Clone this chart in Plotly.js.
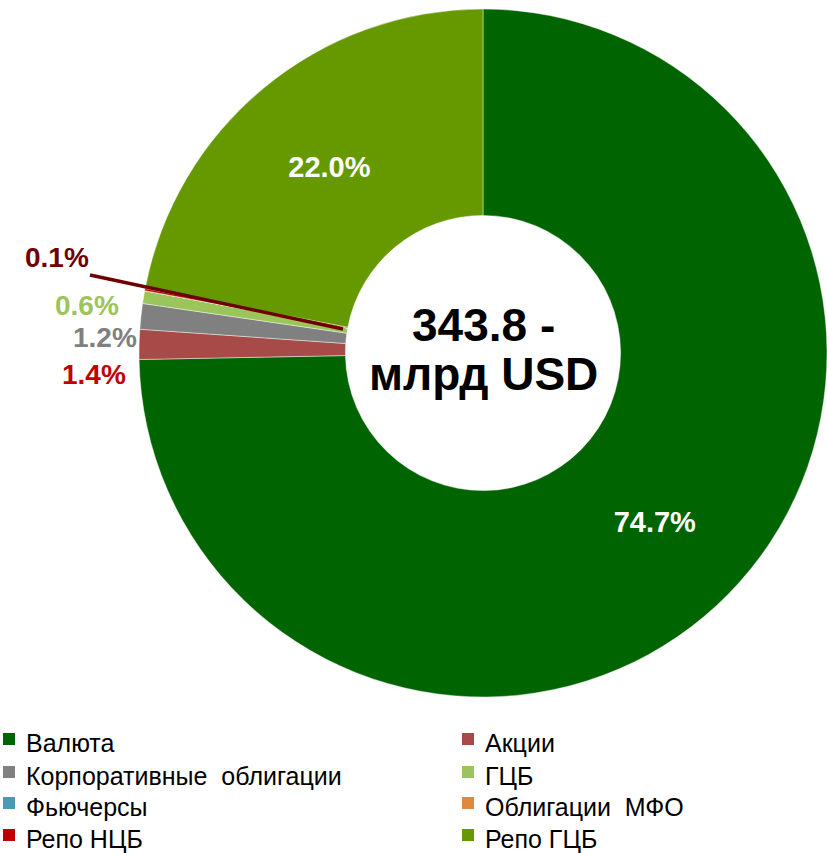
<!DOCTYPE html>
<html>
<head>
<meta charset="utf-8">
<script src="https://cdn.plot.ly/plotly-3.0.1.min.js"></script>
<style>html,body{margin:0;padding:0;background:#fff;}#chart{width:827px;height:853px;}</style>
</head>
<body>
<div id="chart"></div>
<script>
const categories = ['Валюта', 'Акции', 'Корпоративные  облигации', 'ГЦБ', 'Фьючерсы', 'Облигации  МФО', 'Репо НЦБ', 'Репо ГЦБ'];
const shares = [74.7, 1.4, 1.2, 0.6, 0, 0, 0.1, 22.0];
const sliceColors = ['#006400', '#a84a48', '#808080', '#9bc45a', '#4a9ab2', '#e0883e', '#c00000', '#669900'];
const totalLabel = ['343.8 -', 'млрд USD'];
const outsideLabelColors = {1: '#c00000', 2: '#7f7f7f', 3: '#9bc45a', 6: '#6e0000'};

const W = 827, H = 853;
const px = x => x / W;
const py = y => 1 - y / H;
const FONT = 'Liberation Sans, Arial, sans-serif';

const insideText = shares.map(v => v >= 5 ? v.toFixed(1) + '%' : '');

const trace = {
  type: 'pie',
  labels: categories,
  values: shares,
  text: insideText,
  textinfo: 'text',
  texttemplate: '%{text}',
  textposition: 'inside',
  insidetextorientation: 'horizontal',
  insidetextfont: {family: FONT, size: 29, color: '#ffffff', weight: 'bold'},
  sort: false,
  direction: 'clockwise',
  rotation: 0,
  hole: 0.4,
  marker: {colors: sliceColors, line: {color: 'rgba(255,255,255,0.55)', width: 0.8}},
  domain: {x: [px(139), 1], y: [py(697), py(9)]},
  hoverinfo: 'label+percent',
  showlegend: false
};

const annotations = [];
const shapes = [];

// small-slice labels outside the ring
const outsidePos = {1: [94, 374], 2: [105, 337], 3: [87, 305], 6: [57, 257]};
Object.keys(outsidePos).forEach(k => {
  const i = +k;
  annotations.push({
    xref: 'paper', yref: 'paper',
    x: px(outsidePos[i][0]), y: py(outsidePos[i][1]),
    xanchor: 'center', yanchor: 'middle',
    text: shares[i].toFixed(1) + '%',
    showarrow: false,
    font: {family: FONT, size: 28, color: outsideLabelColors[i], weight: 'bold'}
  });
});
shapes.push({
  type: 'line', xref: 'paper', yref: 'paper',
  x0: px(90), y0: py(275), x1: px(343), y1: py(329),
  line: {color: '#6e0000', width: 3.5}
});

// centre caption
[[325, totalLabel[0]], [374, totalLabel[1]]].forEach(([y, t]) => {
  annotations.push({
    xref: 'paper', yref: 'paper', x: px(484), y: py(y), xanchor: 'center', yanchor: 'middle',
    text: '<b>' + t + '</b>', showarrow: false,
    font: {family: FONT, size: 46, color: '#000000'}
  });
});

// legend: two columns, four rows
const legColX = [3, 462];
const legRowY = [743, 776, 807, 839];
categories.forEach((name, i) => {
  const col = i % 2, row = Math.floor(i / 2);
  const x0 = legColX[col], yc = legRowY[row];
  shapes.push({
    type: 'rect', xref: 'paper', yref: 'paper',
    x0: px(x0), x1: px(x0 + 12), y0: py(yc + 2), y1: py(yc - 10),
    fillcolor: sliceColors[i], line: {width: 0}
  });
  annotations.push({
    xref: 'paper', yref: 'paper', x: px(x0 + 21), y: py(yc), xanchor: 'left', yanchor: 'middle',
    text: name, showarrow: false,
    font: {family: FONT, size: 25, color: '#000000'}
  });
});

const layout = {
  width: W, height: H,
  margin: {l: 0, r: 0, t: 0, b: 0, autoexpand: false},
  paper_bgcolor: '#ffffff',
  plot_bgcolor: '#ffffff',
  showlegend: false,
  annotations: annotations,
  shapes: shapes
};

Plotly.newPlot('chart', [trace], layout, {displayModeBar: false, staticPlot: true});
</script>
</body>
</html>
